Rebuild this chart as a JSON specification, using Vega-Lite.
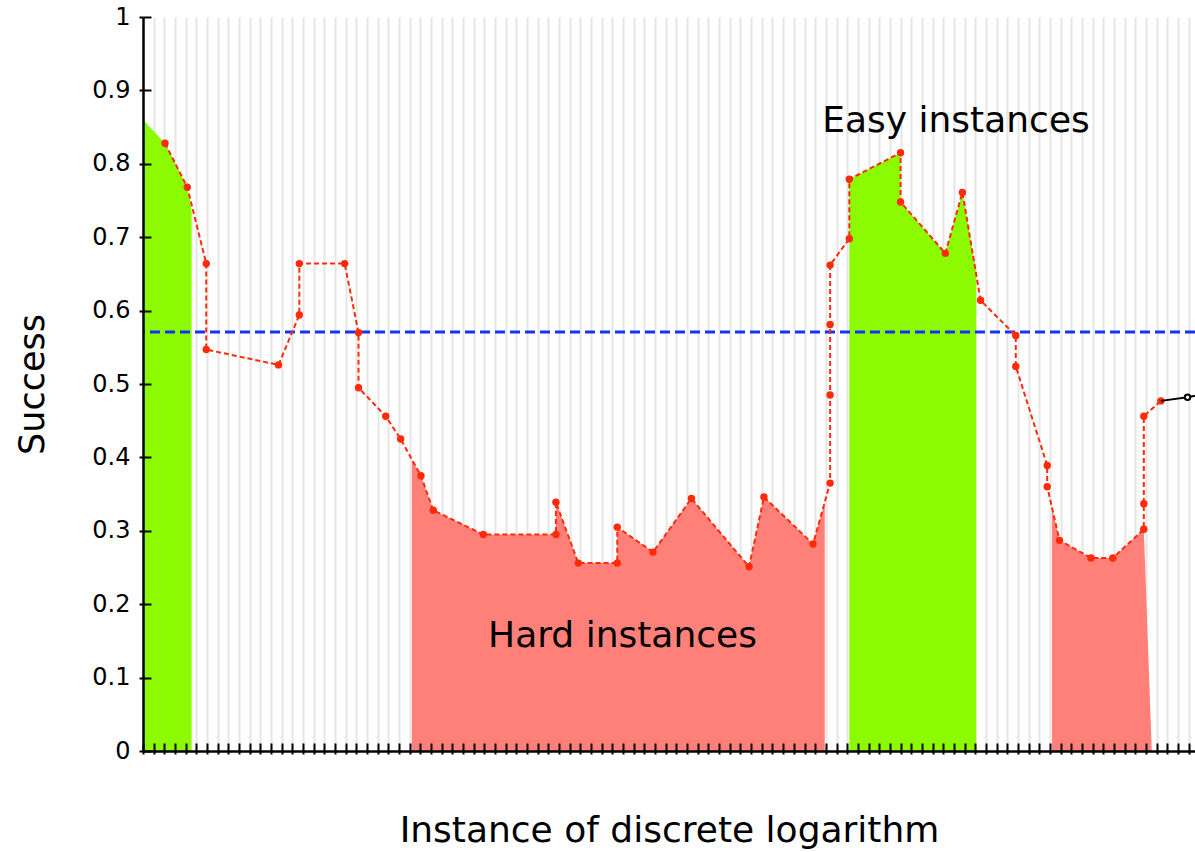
{
  "$schema": "https://vega.github.io/schema/vega-lite/v6.json",
  "width": 1052,
  "height": 734,
  "autosize": "none",
  "padding": {"left": 143, "top": 17, "right": 0, "bottom": 101},
  "background": "white",
  "config": {"view": {"stroke": null}, "font": "DejaVu Sans"},
  "datasets": {
    "areas": [
      {"region": "g1", "kind": "easy", "x": 0, "y": 0.86},
      {"region": "g1", "kind": "easy", "x": 2.06, "y": 0.828},
      {"region": "g1", "kind": "easy", "x": 4.15, "y": 0.768},
      {"region": "g1", "kind": "easy", "x": 4.4, "y": 0.752},
      {"region": "g1", "kind": "easy", "x": 4.56, "y": 0.735},
      {"region": "h1", "kind": "hard", "x": 25.2, "y": 0.397},
      {"region": "h1", "kind": "hard", "x": 26.05, "y": 0.375},
      {"region": "h1", "kind": "hard", "x": 27.2, "y": 0.328},
      {"region": "h1", "kind": "hard", "x": 31.9, "y": 0.295},
      {"region": "h1", "kind": "hard", "x": 38.7, "y": 0.295},
      {"region": "h1", "kind": "hard", "x": 38.7, "y": 0.339},
      {"region": "h1", "kind": "hard", "x": 40.8, "y": 0.256},
      {"region": "h1", "kind": "hard", "x": 44.45, "y": 0.256},
      {"region": "h1", "kind": "hard", "x": 44.45, "y": 0.305},
      {"region": "h1", "kind": "hard", "x": 47.8, "y": 0.271},
      {"region": "h1", "kind": "hard", "x": 51.4, "y": 0.344},
      {"region": "h1", "kind": "hard", "x": 56.8, "y": 0.251},
      {"region": "h1", "kind": "hard", "x": 58.2, "y": 0.346},
      {"region": "h1", "kind": "hard", "x": 62.8, "y": 0.282},
      {"region": "h1", "kind": "hard", "x": 63.9, "y": 0.339},
      {"region": "g2", "kind": "easy", "x": 66.2, "y": 0.779},
      {"region": "g2", "kind": "easy", "x": 71.0, "y": 0.815},
      {"region": "g2", "kind": "easy", "x": 71.0, "y": 0.748},
      {"region": "g2", "kind": "easy", "x": 75.2, "y": 0.678},
      {"region": "g2", "kind": "easy", "x": 76.8, "y": 0.761},
      {"region": "g2", "kind": "easy", "x": 78.1, "y": 0.653},
      {"region": "h2", "kind": "hard", "x": 85.2, "y": 0.331},
      {"region": "h2", "kind": "hard", "x": 85.9, "y": 0.287},
      {"region": "h2", "kind": "hard", "x": 88.85, "y": 0.263},
      {"region": "h2", "kind": "hard", "x": 90.9, "y": 0.263},
      {"region": "h2", "kind": "hard", "x": 93.8, "y": 0.302},
      {"region": "h2", "kind": "hard", "x": 94.55, "y": 0}
    ],
    "series": [
      {"order": 1, "x": 2.06, "y": 0.828},
      {"order": 2, "x": 4.15, "y": 0.768},
      {"order": 3, "x": 5.93, "y": 0.664},
      {"order": 4, "x": 5.93, "y": 0.547},
      {"order": 5, "x": 12.7, "y": 0.526},
      {"order": 6, "x": 14.65, "y": 0.594},
      {"order": 7, "x": 14.65, "y": 0.664},
      {"order": 8, "x": 18.9, "y": 0.664},
      {"order": 9, "x": 20.2, "y": 0.570},
      {"order": 10, "x": 20.2, "y": 0.495},
      {"order": 11, "x": 22.75, "y": 0.456},
      {"order": 12, "x": 24.15, "y": 0.425},
      {"order": 13, "x": 26.05, "y": 0.375},
      {"order": 14, "x": 27.2, "y": 0.328},
      {"order": 15, "x": 31.9, "y": 0.295},
      {"order": 16, "x": 38.7, "y": 0.295},
      {"order": 17, "x": 38.7, "y": 0.339},
      {"order": 18, "x": 40.8, "y": 0.256},
      {"order": 19, "x": 44.45, "y": 0.256},
      {"order": 20, "x": 44.45, "y": 0.305},
      {"order": 21, "x": 47.8, "y": 0.271},
      {"order": 22, "x": 51.4, "y": 0.344},
      {"order": 23, "x": 56.8, "y": 0.251},
      {"order": 24, "x": 58.2, "y": 0.346},
      {"order": 25, "x": 62.8, "y": 0.282},
      {"order": 26, "x": 64.4, "y": 0.365},
      {"order": 27, "x": 64.4, "y": 0.485},
      {"order": 28, "x": 64.4, "y": 0.581},
      {"order": 29, "x": 64.4, "y": 0.662},
      {"order": 30, "x": 66.2, "y": 0.698},
      {"order": 31, "x": 66.2, "y": 0.779},
      {"order": 32, "x": 71.0, "y": 0.815},
      {"order": 33, "x": 71.0, "y": 0.748},
      {"order": 34, "x": 75.2, "y": 0.678},
      {"order": 35, "x": 76.8, "y": 0.761},
      {"order": 36, "x": 78.5, "y": 0.614},
      {"order": 37, "x": 81.8, "y": 0.566},
      {"order": 38, "x": 81.8, "y": 0.524},
      {"order": 39, "x": 84.75, "y": 0.389},
      {"order": 40, "x": 84.75, "y": 0.360},
      {"order": 41, "x": 85.9, "y": 0.287},
      {"order": 42, "x": 88.85, "y": 0.263},
      {"order": 43, "x": 90.9, "y": 0.263},
      {"order": 44, "x": 93.8, "y": 0.302},
      {"order": 45, "x": 93.8, "y": 0.337},
      {"order": 46, "x": 93.8, "y": 0.456},
      {"order": 47, "x": 95.4, "y": 0.477}
    ],
    "tail": [
      {"order": 1, "x": 95.4, "y": 0.477, "open": false},
      {"order": 2, "x": 97.9, "y": 0.482, "open": true},
      {"order": 3, "x": 100.0, "y": 0.488, "open": false}
    ],
    "threshold": [{"y": 0.571}],
    "labels": [
      {"text": "Easy instances", "x": 76.2, "y": 0.843},
      {"text": "Hard instances", "x": 44.94, "y": 0.1417}
    ]
  },
  "resolve": {"axis": {"x": "independent", "y": "independent"}},
  "layer": [
    {
      "data": {"name": "areas"},
      "mark": {"type": "area", "opacity": 1, "interpolate": "linear"},
      "encoding": {
        "x": {"field": "x", "type": "quantitative",
          "scale": {"domain": [0, 98.6], "nice": false, "zero": false},
          "axis": {"orient": "bottom", "grid": true, "gridColor": "#e6e6e6", "gridWidth": 2,
            "ticks": false, "domain": false, "labels": false, "title": null, "zindex": 0,
            "values": [0,1,2,3,4,5,6,7,8,9,10,11,12,13,14,15,16,17,18,19,20,21,22,23,24,25,26,27,28,29,30,31,32,33,34,35,36,37,38,39,40,41,42,43,44,45,46,47,48,49,50,51,52,53,54,55,56,57,58,59,60,61,62,63,64,65,66,67,68,69,70,71,72,73,74,75,76,77,78,79,80,81,82,83,84,85,86,87,88,89,90,91,92,93,94,95,96,97,98]}},
        "y": {"field": "y", "type": "quantitative", "stack": null, "scale": {"domain": [0, 1], "nice": false}, "axis": null},
        "detail": {"field": "region", "type": "nominal"},
        "color": {"field": "kind", "type": "nominal", "legend": null,
          "scale": {"domain": ["easy", "hard"], "range": ["#8cfa00", "#ff8078"]}}
      }
    },
    {
      "data": {"name": "threshold"},
      "mark": {"type": "rule", "color": "#1432ff", "strokeWidth": 3, "strokeDash": [10, 5]},
      "encoding": {
        "y": {"field": "y", "type": "quantitative", "scale": {"domain": [0, 1], "nice": false}, "axis": null}
      }
    },
    {
      "data": {"name": "series"},
      "mark": {"type": "line", "color": "#ff2a0a", "strokeWidth": 2, "strokeDash": [5, 3]},
      "encoding": {
        "x": {"field": "x", "type": "quantitative",
          "scale": {"domain": [0, 98.6], "nice": false, "zero": false},
          "axis": {"orient": "bottom", "grid": false, "domain": true, "domainColor": "black", "domainWidth": 2.5,
            "ticks": true, "tickSize": 3, "tickWidth": 2, "tickColor": "black", "labels": false,
            "title": "Instance of discrete logarithm", "titleFont": "DejaVu Sans", "titleFontSize": 36,
            "titleFontWeight": "normal", "titleColor": "black", "titlePadding": 58, "zindex": 1,
            "values": [0,1,2,3,4,5,6,7,8,9,10,11,12,13,14,15,16,17,18,19,20,21,22,23,24,25,26,27,28,29,30,31,32,33,34,35,36,37,38,39,40,41,42,43,44,45,46,47,48,49,50,51,52,53,54,55,56,57,58,59,60,61,62,63,64,65,66,67,68,69,70,71,72,73,74,75,76,77,78,79,80,81,82,83,84,85,86,87,88,89,90,91,92,93,94,95,96,97,98]}},
        "y": {"field": "y", "type": "quantitative", "scale": {"domain": [0, 1], "nice": false},
          "axis": {"orient": "left", "grid": false, "domain": true, "domainColor": "black", "domainWidth": 2.5,
            "ticks": true, "tickSize": 4, "tickWidth": 2, "tickColor": "black",
            "values": [0, 0.1, 0.2, 0.3, 0.4, 0.5, 0.6, 0.7, 0.8, 0.9, 1], "format": "~g",
            "labelFont": "DejaVu Sans", "labelFontSize": 24, "labelColor": "black", "labelPadding": 9,
            "title": "Success", "titleFont": "DejaVu Sans", "titleFontSize": 35, "titleFontWeight": "normal",
            "titleColor": "black", "titlePadding": 41, "zindex": 1}},
        "order": {"field": "order", "type": "quantitative"}
      }
    },
    {
      "data": {"name": "series"},
      "mark": {"type": "circle", "color": "#ff2a0a", "size": 55, "opacity": 1},
      "encoding": {
        "x": {"field": "x", "type": "quantitative",
          "scale": {"domain": [0, 98.6], "nice": false, "zero": false},
          "axis": {"orient": "bottom", "grid": false, "domain": false, "ticks": true, "tickSize": -8,
            "tickWidth": 2, "tickColor": "black", "labels": false, "title": null, "zindex": 1,
            "values": [0,1,2,3,4,5,6,7,8,9,10,11,12,13,14,15,16,17,18,19,20,21,22,23,24,25,26,27,28,29,30,31,32,33,34,35,36,37,38,39,40,41,42,43,44,45,46,47,48,49,50,51,52,53,54,55,56,57,58,59,60,61,62,63,64,65,66,67,68,69,70,71,72,73,74,75,76,77,78,79,80,81,82,83,84,85,86,87,88,89,90,91,92,93,94,95,96,97,98]}},
        "y": {"field": "y", "type": "quantitative", "scale": {"domain": [0, 1], "nice": false},
          "axis": {"orient": "left", "grid": false, "domain": false, "ticks": true, "tickSize": -8,
            "tickWidth": 2, "tickColor": "black", "labels": false, "title": null, "zindex": 1,
            "values": [0, 0.1, 0.2, 0.3, 0.4, 0.5, 0.6, 0.7, 0.8, 0.9, 1]}}
      }
    },
    {
      "data": {"name": "tail"},
      "mark": {"type": "line", "color": "black", "strokeWidth": 2, "clip": true},
      "encoding": {
        "x": {"field": "x", "type": "quantitative", "scale": {"domain": [0, 98.6], "nice": false, "zero": false}, "axis": null},
        "y": {"field": "y", "type": "quantitative", "scale": {"domain": [0, 1], "nice": false}, "axis": null},
        "order": {"field": "order", "type": "quantitative"}
      }
    },
    {
      "data": {"name": "tail"},
      "transform": [{"filter": "datum.open"}],
      "mark": {"type": "point", "shape": "circle", "filled": true, "fill": "white", "stroke": "black", "strokeWidth": 2, "size": 30, "opacity": 1},
      "encoding": {
        "x": {"field": "x", "type": "quantitative", "scale": {"domain": [0, 98.6], "nice": false, "zero": false}, "axis": null},
        "y": {"field": "y", "type": "quantitative", "scale": {"domain": [0, 1], "nice": false}, "axis": null}
      }
    },
    {
      "data": {"name": "labels"},
      "mark": {"type": "text", "font": "DejaVu Sans", "fontSize": 36, "color": "black", "align": "center", "baseline": "alphabetic"},
      "encoding": {
        "x": {"field": "x", "type": "quantitative", "scale": {"domain": [0, 98.6], "nice": false, "zero": false}, "axis": null},
        "y": {"field": "y", "type": "quantitative", "scale": {"domain": [0, 1], "nice": false}, "axis": null},
        "text": {"field": "text"}
      }
    }
  ]
}
